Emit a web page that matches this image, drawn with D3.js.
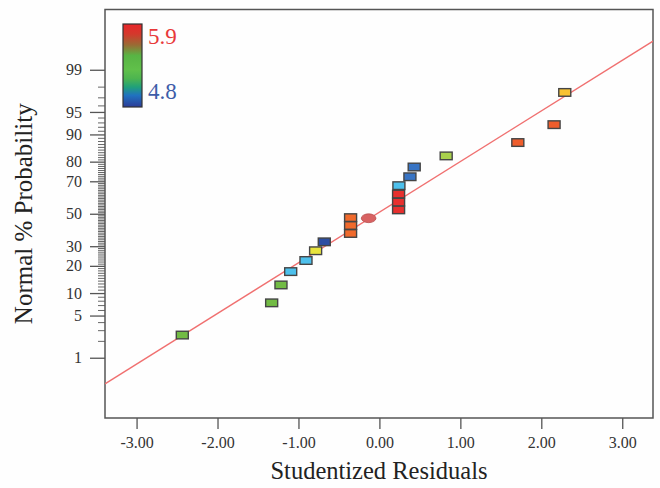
<!DOCTYPE html>
<html><head><meta charset="utf-8">
<script src="https://cdn.jsdelivr.net/npm/d3@7"></script>
<style>body{margin:0;background:#fff} svg{display:block}</style>
</head><body><svg id="c" width="660" height="488"></svg>
<script>
// ---- data ----
const residuals = [-2.435,-1.331,-1.216,-1.096,-0.907,-0.788,-0.681,-0.356,-0.356,-0.356,0.237,0.237,0.237,0.241,0.377,0.430,0.825,1.710,2.158,2.290];
const probabilities = [2.5,7.5,12.5,17.5,22.5,27.5,32.5,37.5,42.5,47.5,52.5,57.5,62.5,67.5,72.5,77.5,82.5,87.5,92.5,97.5];
const responseValues = [5.25,5.25,5.25,5.05,5.05,5.5,4.8,5.72,5.72,5.72,5.9,5.9,5.9,5.05,4.95,4.95,5.38,5.76,5.76,5.6];
const highlightResidual = [-0.133];
const highlightProbability = [47.1];
const xTicks = [-3,-2,-1,0,1,2,3];
const yTickLabels = [1,5,10,20,30,50,70,80,90,95,99];
const yMinorTicks = [2,3,4,6,7,8,9,11,12,13,14,15,16,17,18,19,21,22,23,24,25,26,27,28,29,31,32,33,34,35,36,37,38,39,40,41,42,43,44,45,46,47,48,49,51,52,53,54,55,56,57,58,59,60,61,62,63,64,65,66,67,68,69,71,72,73,74,75,76,77,78,79,81,82,83,84,85,86,87,88,89,91,92,93,94,96,97,98];
const fitIntercept = 0.025, fitSlope = 0.818;
const legendRange = [4.8, 5.9];
const colorStops = [4.8, 4.95, 5.05, 5.25, 5.38, 5.5, 5.6, 5.72, 5.9];
const colorValues = ["#2c4ea2","#3874c4","#4dc0ec","#72bb44","#a8d04c","#e8e43e","#f8c232","#f06a2c","#e8302e"];

// inverse normal CDF (Acklam)
function probit(p){
  const a=[-3.969683028665376e+01,2.209460984245205e+02,-2.759285104469687e+02,1.383577518672690e+02,-3.066479806614716e+01,2.506628277459239e+00];
  const b=[-5.447609879822406e+01,1.615858368580409e+02,-1.556989798598866e+02,6.680131188771972e+01,-1.328068155288572e+01];
  const c=[-7.784894002430293e-03,-3.223964580411365e-01,-2.400758277161838e+00,-2.549732539343734e+00,4.374664141464968e+00,2.938163982698783e+00];
  const d=[7.784695709041462e-03,3.224671290700398e-01,2.445134137142996e+00,3.754408661907416e+00];
  const pl=0.02425, ph=1-pl; let q,r;
  if(p<pl){q=Math.sqrt(-2*Math.log(p));return (((((c[0]*q+c[1])*q+c[2])*q+c[3])*q+c[4])*q+c[5])/((((d[0]*q+d[1])*q+d[2])*q+d[3])*q+1);}
  if(p<=ph){q=p-0.5;r=q*q;return (((((a[0]*r+a[1])*r+a[2])*r+a[3])*r+a[4])*r+a[5])*q/(((((b[0]*r+b[1])*r+b[2])*r+b[3])*r+b[4])*r+1);}
  q=Math.sqrt(-2*Math.log(1-p));return -(((((c[0]*q+c[1])*q+c[2])*q+c[3])*q+c[4])*q+c[5])/((((d[0]*q+d[1])*q+d[2])*q+d[3])*q+1);
}

const svg = d3.select("#c");
const L=105, R=653, T=9.5, B=418;
const serif = "'Liberation Serif','Times New Roman',serif";
const x = d3.scaleLinear().domain([-3.39,3.38]).range([L,R]);
const z = d3.scaleLinear().domain([-3.3,3.3]).range([B,T]);
const color = d3.scaleLinear().domain(colorStops).range(colorValues);

svg.append("rect").attr("width",660).attr("height",488).attr("fill","#fefefe");

// minor y ticks
const gMinor = svg.append("g").attr("transform",`translate(${L},0)`)
  .call(d3.axisLeft(z).tickValues(yMinorTicks.map(p=>probit(p/100))).tickSize(7).tickFormat(""));
gMinor.select(".domain").remove();
gMinor.selectAll("line").attr("stroke","#666").attr("stroke-width",1);

// major y ticks
const gy = svg.append("g").attr("transform",`translate(${L},0)`)
  .call(d3.axisLeft(z).tickValues(yTickLabels.map(p=>probit(p/100))).tickSize(15).tickPadding(8)
    .tickFormat((d,i)=>yTickLabels[i]));
gy.select(".domain").remove();
gy.selectAll("line").attr("stroke","#555").attr("stroke-width",1.3);
gy.selectAll("text").attr("font-family",serif).attr("font-size",16).attr("fill","#333");

// x axis
const gx = svg.append("g").attr("transform",`translate(0,${B})`)
  .call(d3.axisBottom(x).tickValues(xTicks).tickSize(11).tickPadding(8).tickFormat(d=>d.toFixed(2)));
gx.select(".domain").remove();
gx.selectAll("line").attr("stroke","#555").attr("stroke-width",1.3);
gx.selectAll("text").attr("font-family",serif).attr("font-size",16).attr("fill","#333");

// frame
svg.append("rect").attr("x",L).attr("y",T).attr("width",R-L).attr("height",B-T)
  .attr("fill","none").attr("stroke","#555").attr("stroke-width",1.5);

// fit line
svg.append("clipPath").attr("id","clip").append("rect").attr("x",L).attr("y",T).attr("width",R-L).attr("height",B-T);
const xd = x.domain();
svg.append("line").attr("clip-path","url(#clip)")
  .attr("x1",x(xd[0])).attr("y1",z(fitIntercept+fitSlope*xd[0]))
  .attr("x2",x(xd[1])).attr("y2",z(fitIntercept+fitSlope*xd[1]))
  .attr("stroke","#f07070").attr("stroke-width",1.4);

// points
const pts = residuals.map((r,i)=>({r, p:probabilities[i], v:responseValues[i]}));
const mw=12, mh=7.6;
svg.append("g").selectAll("rect").data(pts).join("rect")
  .attr("x",d=>x(d.r)-mw/2).attr("y",d=>z(probit(d.p/100))-mh/2)
  .attr("width",mw).attr("height",mh)
  .attr("fill",d=>color(d.v)).attr("stroke","#454545").attr("stroke-width",1.4);

svg.append("g").selectAll("ellipse").data(highlightResidual).join("ellipse")
  .attr("cx",d=>x(d)).attr("cy",(d,i)=>z(probit(highlightProbability[i]/100)))
  .attr("rx",7.3).attr("ry",4.4).attr("fill","#d86262").attr("stroke","#b85050").attr("stroke-width",0.8);

// legend
const defs = svg.append("defs");
const grad = defs.append("linearGradient").attr("id","lg").attr("x1",0).attr("y1",0).attr("x2",0).attr("y2",1);
[[0,"#e8262a"],[0.12,"#d4382c"],[0.25,"#9a6a34"],[0.38,"#58b444"],[0.55,"#60c04a"],[0.66,"#4cb450"],[0.76,"#20a07a"],[0.86,"#2072c0"],[1,"#2c3c98"]]
  .forEach(s=>grad.append("stop").attr("offset",s[0]).attr("stop-color",s[1]));
const ly = d3.scaleLinear().domain(legendRange).range([107,24]);
svg.append("rect").attr("x",123).attr("y",ly(legendRange[1])).attr("width",19).attr("height",ly(legendRange[0])-ly(legendRange[1]))
  .attr("fill","url(#lg)").attr("stroke","#333").attr("stroke-width",1.2);
svg.append("text").attr("x",148).attr("y",44).attr("font-family",serif).attr("font-size",23).attr("fill","#e8393a").text(legendRange[1].toFixed(1));
svg.append("text").attr("x",148).attr("y",98.5).attr("font-family",serif).attr("font-size",23).attr("fill","#3d5ca8").text(legendRange[0].toFixed(1));

// titles
svg.append("text").attr("x",(L+R)/2).attr("y",479).attr("text-anchor","middle")
  .attr("font-family",serif).attr("font-size",24.5).attr("fill","#222").text("Studentized Residuals");
svg.append("text").attr("transform",`translate(32,${(T+B)/2+0}) rotate(-90)`).attr("text-anchor","middle")
  .attr("font-family",serif).attr("font-size",25).attr("fill","#222").text("Normal % Probability");
</script></body></html>
